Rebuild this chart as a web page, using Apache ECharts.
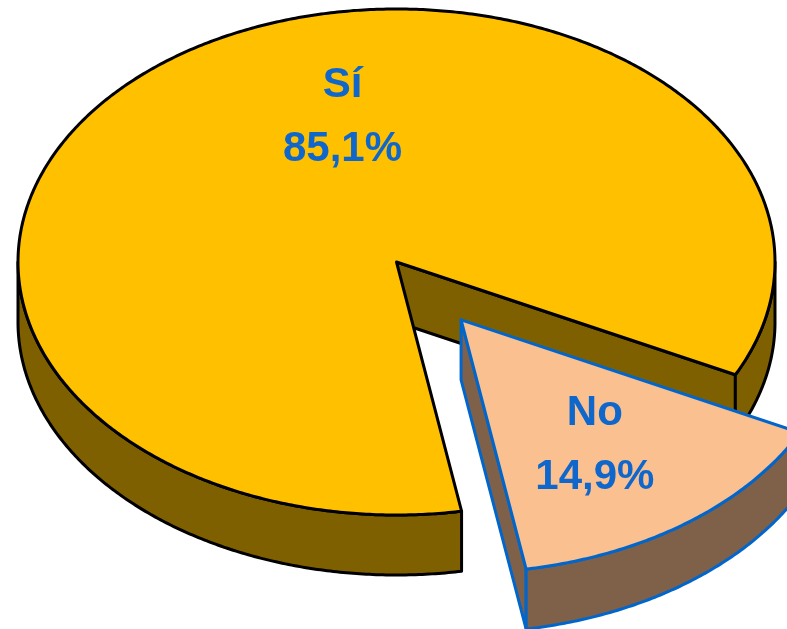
<!DOCTYPE html>
<html>
<head>
<meta charset="utf-8">
<script src="https://cdn.jsdelivr.net/npm/echarts@6/dist/echarts.min.js"></script>
<style>
  html, body { margin: 0; padding: 0; background: #ffffff; }
  #chart { width: 787px; height: 629px; }
</style>
</head>
<body>
<div id="chart"></div>
<script>
// Survey answers and their shares (%)
const categories = ['Sí', 'No'];
const shares = [85.1, 14.9];

// Slice styling
const topColors = ['#FFC000', '#FAC090'];
const sideColors = ['#7F6000', '#7F6048'];
const edgeColors = ['#000000', '#0066CC'];
const explodeDist = [0, 108];
// label placement: [angle in degrees, fraction of radius]
const labelPolar = [[256, 0.59], [54.6, 0.61]];

// Tilted-disc geometry
const geo = { cx: 396.5, cy: 262, rx: 378.5, ry: 253, depth: 60, start: 80.1 };

const total = shares.reduce((a, b) => a + b, 0);
const sliceAngles = [];
let acc = geo.start;
shares.forEach(v => {
  const span = v / total * 360;
  sliceAngles.push([acc, acc + span]);
  acc += span;
});

const rad = d => d * Math.PI / 180;
const fmtPct = v => v.toFixed(1).replace('.', ',') + '%';

function rim(ox, oy, a, dy) {
  return [ox + geo.rx * Math.cos(rad(a)), oy + geo.ry * Math.sin(rad(a)) + (dy || 0)];
}
function arcPoints(ox, oy, a0, a1, dy) {
  const pts = [];
  const n = Math.max(2, Math.ceil(Math.abs(a1 - a0) / 0.5));
  for (let i = 0; i <= n; i++) pts.push(rim(ox, oy, a0 + (a1 - a0) * i / n, dy));
  return pts;
}

function renderItem(params, api) {
  const i = params.dataIndex;
  const [a0, a1] = sliceAngles[i];
  const mid = (a0 + a1) / 2;
  const ox = geo.cx + explodeDist[i] * Math.cos(rad(mid));
  const oy = geo.cy + explodeDist[i] * Math.sin(rad(mid)) * geo.ry / geo.rx;
  const D = geo.depth;
  const lineStyle = { stroke: edgeColors[i], lineWidth: 3, lineJoin: 'round' };
  const children = [];

  // radial walls facing the viewer
  const radial = a => ({
    type: 'polygon',
    shape: { points: [[ox, oy], rim(ox, oy, a), rim(ox, oy, a, D), [ox, oy + D]] },
    style: Object.assign({ fill: sideColors[i] }, lineStyle)
  });
  if (Math.cos(rad(a0)) < 0) children.push(radial(a0));
  if (Math.cos(rad(a1)) > 0) children.push(radial(a1));

  // outer curved wall, front half only
  for (let k = -1; k <= 2; k++) {
    const lo = Math.max(a0, k * 360), hi = Math.min(a1, k * 360 + 180);
    if (hi > lo) {
      const topArc = arcPoints(ox, oy, lo, hi, 0);
      const botArc = arcPoints(ox, oy, hi, lo, D);
      children.push({
        type: 'polygon',
        shape: { points: topArc.concat(botArc) },
        style: Object.assign({ fill: sideColors[i] }, lineStyle)
      });
    }
  }

  // top face
  children.push({
    type: 'polygon',
    shape: { points: [[ox, oy]].concat(arcPoints(ox, oy, a0, a1, 0)) },
    style: Object.assign({ fill: topColors[i] }, lineStyle)
  });

  // label: name and share
  const [la, lr] = labelPolar[i];
  const lx = ox + geo.rx * lr * Math.cos(rad(la));
  const ly = oy + geo.ry * lr * Math.sin(rad(la));
  const font = 'bold 42px "Liberation Sans", Arial, sans-serif';
  children.push({
    type: 'text', x: lx, y: ly - 32,
    style: { text: api.value(1) === undefined ? categories[i] : categories[i], font: font, fill: '#0F67CC', align: 'center', verticalAlign: 'middle' }
  });
  children.push({
    type: 'text', x: lx, y: ly + 32,
    style: { text: fmtPct(api.value(0)), font: font, fill: '#0F67CC', align: 'center', verticalAlign: 'middle' }
  });

  return { type: 'group', children: children };
}

const chart = echarts.init(document.getElementById('chart'), null, { renderer: 'canvas' });
chart.setOption({
  animation: false,
  series: [{
    type: 'custom',
    coordinateSystem: 'none',
    renderItem: renderItem,
    data: shares.map((v, i) => ({ name: categories[i], value: [v] }))
  }]
});
</script>
</body>
</html>
